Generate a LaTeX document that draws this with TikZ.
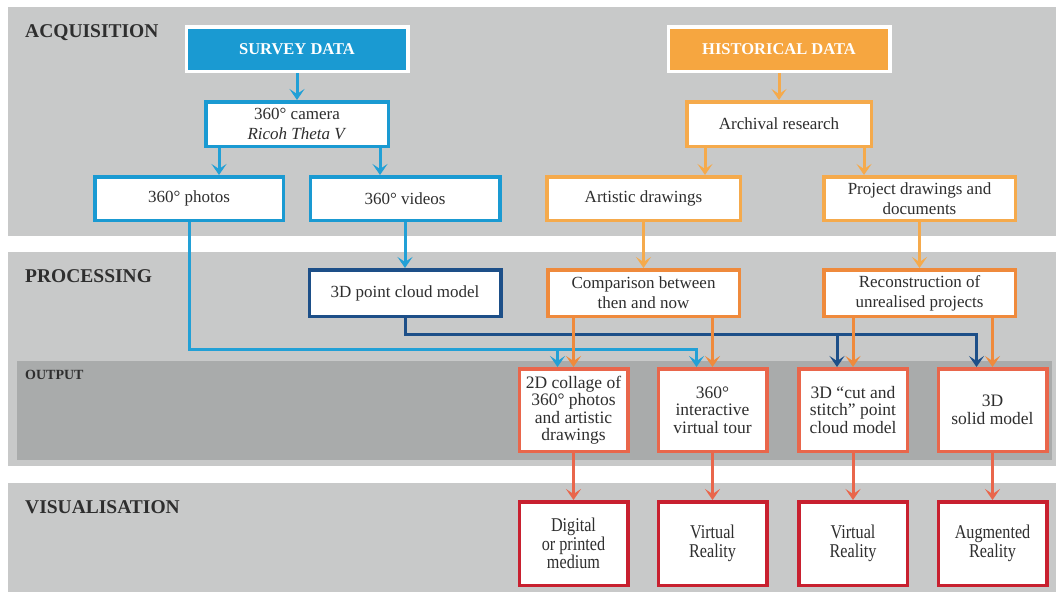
\documentclass[tikz,border=0pt]{standalone}
\usepackage{fontspec}
\setmainfont{Liberation Serif}
\newfontfamily\narrowserif[FakeStretch=0.83]{Liberation Serif}
\usetikzlibrary{arrows.meta}

\definecolor{bandgray}{HTML}{C8C9C9}
\definecolor{outgray}{HTML}{A9ABAB}
\definecolor{surveyblue}{HTML}{1A9AD2}
\definecolor{lightblue}{HTML}{22A0D6}
\definecolor{darkblue}{HTML}{1D4F88}
\definecolor{historange}{HTML}{F6A640}
\definecolor{lightorange}{HTML}{F5AA4C}
\definecolor{procorange}{HTML}{EF8A3C}
\definecolor{coral}{HTML}{E9664B}
\definecolor{visred}{HTML}{C8202F}
\definecolor{inkgray}{HTML}{2E2E2E}

\begin{document}
\begin{tikzpicture}[x=1pt, y=-1pt,
	box/.style={draw, line width=3.5pt, fill=white, inner sep=0pt, align=center, text=inkgray, font=\fontsize{17}{20}\selectfont},
	outbox/.style={box, draw=coral, minimum width=108.5pt, minimum height=82.5pt, font=\fontsize{17.5}{17.5}\selectfont},
	visbox/.style={box, draw=visred, minimum width=108.5pt, minimum height=83.5pt, font=\narrowserif\fontsize{19.5}{18.5}\selectfont},
	head/.style={draw=white, line width=3.5pt, minimum width=221.5pt, minimum height=44.5pt, text=white, font=\bfseries\fontsize{16.5}{20}\selectfont},
	band/.style={anchor=base west, inner sep=0pt, text=inkgray, font=\bfseries\fontsize{19.5}{20}\selectfont},
	link/.style={line width=3pt, -{Stealth[length=11pt,width=15pt,inset=5pt]}}
	]
	   \useasboundingbox (0,0) rectangle (1059,597);
	   \fill[white] (0,0) rectangle (1059,597);
	   % the four bands
	   \fill[bandgray] (8,7) rectangle (1056,236);
	   \fill[bandgray] (8,252) rectangle (1056,466);
	   \fill[outgray] (17,361) rectangle (1052,460);
	   \fill[bandgray] (8,483) rectangle (1056,592);
	   \node[band] (acq) at (25,37) {ACQUISITION};
	   \node[band] (proc) at (25,282) {PROCESSING};
	   \node[band, font=\bfseries\fontsize{14}{15}\selectfont] (outp) at (25,379) {OUTPUT};
	   \node[band] (visu) at (25,513) {VISUALISATION};

	   % acquisition
	   \node[head, fill=surveyblue] (survey) at (297,49) {SURVEY DATA};
	   \node[head, fill=historange] (hist) at (779,49) {HISTORICAL DATA};
	   \node[box, draw=surveyblue, minimum width=182.5pt, minimum height=44.5pt] (camera) at (297,124) {360° camera\\\textit{Ricoh Theta V}};
	   \node[box, draw=lightorange, minimum width=184.5pt, minimum height=44.5pt] (archival) at (779,124) {Archival research};
	   \node[box, draw=surveyblue, minimum width=188.5pt, minimum height=43.5pt] (photos) at (189,198.5) {360° photos};
	   \node[box, draw=surveyblue, minimum width=189.5pt, minimum height=43.5pt] (videos) at (405,198.5) {360° videos};
	   \node[box, draw=lightorange, minimum width=193.5pt, minimum height=43.5pt] (artistic) at (643.5,198.5) {Artistic drawings};
	   \node[box, draw=lightorange, minimum width=191.5pt, minimum height=43.5pt] (project) at (919.5,198.5) {Project drawings and\\documents};

	   % processing
	   \node[box, draw=darkblue, minimum width=191.5pt, minimum height=46.5pt] (cloud) at (405,293) {3D point cloud model};
	   \node[box, draw=procorange, minimum width=191.5pt, minimum height=46.5pt] (compare) at (643.5,293) {Comparison between\\then and now};
	   \node[box, draw=procorange, minimum width=191.5pt, minimum height=46.5pt] (recon) at (919.5,293) {Reconstruction of\\unrealised projects};

	   % output
	   \node[outbox] (collage) at (573.5,410) {2D collage of\\360° photos\\and artistic\\drawings};
	   \node[outbox] (tour) at (712.5,410) {360°\\interactive\\virtual tour};
	   \node[outbox] (stitch) at (853,410) {3D “cut and\\stitch” point\\cloud model};
	   \node[outbox] (solid) at (992.5,410) {3D\\solid model};

	   % visualisation
	   \node[visbox] (digital) at (573.5,543.5) {Digital\\or printed\\medium};
	   \node[visbox] (vr1) at (712.5,543.5) {Virtual\\Reality};
	   \node[visbox] (vr2) at (853,543.5) {Virtual\\Reality};
	   \node[visbox] (ar) at (992.5,543.5) {Augmented\\Reality};

	   \coordinate (c1) at ([xshift=-78pt]camera.south);
	   \coordinate (c2) at ([xshift=83pt]camera.south);
	   \coordinate (a1) at ([xshift=-74pt]archival.south);
	   \coordinate (a2) at ([xshift=85pt]archival.south);
	   \coordinate (p1) at ([xshift=-16pt]collage.north);
	   \coordinate (p2) at ([xshift=-16pt]tour.north);
	   \coordinate (d1) at ([xshift=-16pt]stitch.north);
	   \coordinate (d2) at ([xshift=-16pt]solid.north);

	   \draw[link, lightblue] (survey) -- (camera);
	   \draw[link, lightblue] (c1) -- (c1 |- photos.north);
	   \draw[link, lightblue] (c2) -- (c2 |- videos.north);
	   \draw[link, lightorange] (hist) -- (archival);
	   \draw[link, lightorange] (a1) -- (a1 |- artistic.north);
	   \draw[link, lightorange] (a2) -- (a2 |- project.north);
	   \draw[link, lightblue] (videos) -- (cloud);
	   \draw[link, lightorange] (artistic) -- (compare);
	   \draw[link, lightorange] (project) -- (recon);

	   % the two blue buses run under the orange drops
	   \draw[link, lightblue] (photos.south) |- ([yshift=18pt]p2) -- (p2);
	   \draw[link, lightblue] ([yshift=18pt]p1) -- (p1);
	   \draw[link, darkblue] (cloud.south) |- ([yshift=33pt]d2) -- (d2);
	   \draw[link, darkblue] ([yshift=33pt]d1) -- (d1);

	   \draw[link, procorange] (collage.north |- compare.south) -- (collage.north);
	   \draw[link, procorange] (tour.north |- compare.south) -- (tour.north);
	   \draw[link, procorange] (stitch.north |- recon.south) -- (stitch.north);
	   \draw[link, procorange] (solid.north |- recon.south) -- (solid.north);

	   \draw[link, coral] (collage) -- (digital);
	   \draw[link, coral] (tour) -- (vr1);
	   \draw[link, coral] (stitch) -- (vr2);
	   \draw[link, coral] (solid) -- (ar);
\end{tikzpicture}
\end{document}
